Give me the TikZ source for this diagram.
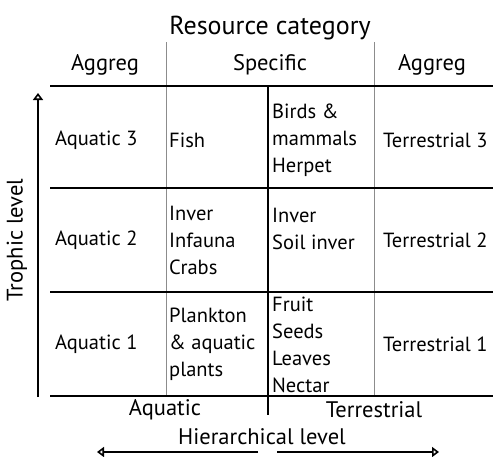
\documentclass[tikz,border=0pt]{standalone}
\usepackage{fontspec}
\setmainfont{PT Sans}
\usetikzlibrary{arrows.meta,positioning}

\begin{document}
\begin{tikzpicture}[x=1pt,y=-1pt,
  cell/.style={anchor=west,align=left,inner sep=0pt,font=\fontsize{20.5}{27}\selectfont},
  head/.style={inner sep=0pt,font=\fontsize{22.5}{26}\selectfont},
  gridline/.style={line width=1.8pt},
  thinline/.style={line width=1pt,black!45},
  axis/.style={line width=2.6pt,-{Triangle[open,width=10pt,length=7pt,line width=1.6pt]}}]
\useasboundingbox (0,0) rectangle (493,456);

% Title and column heads
\node[head,font=\fontsize{26}{30}\selectfont] (title) at (270,28) {Resource category};
\node[head] (aggL) at (105,65) {Aggreg};
\node[head] (spec) at (270,65) {Specific};
\node[head] (aggR) at (432,65) {Aggreg};

% Grid
\draw[thinline] (166,42)--(166,396);
\draw[thinline] (374,42)--(374,396);
\draw[gridline] (50,86)--(493,86);
\draw[gridline] (50,188)--(493,188);
\draw[gridline] (50,292)--(493,292);
\draw[line width=2.4pt] (50,396)--(493,396);
\draw[line width=2.8pt] (268,86)--(268,415);

% Row 3
\node[cell] (aq3) at (55,140) {Aquatic 3};
\node[cell] (fish) at (169,140) {Fish};
\node[cell] (birds) at (272,140) {Birds \&\\mammals\\Herpet};
\node[cell] (te3) at (383,140) {Terrestrial 3};

% Row 2
\node[cell] (aq2) at (55,240) {Aquatic 2};
\node[cell] (infauna) at (169,240) {Inver\\Infauna\\Crabs};
\node[cell] (soil) at (272,229) {Inver\\Soil inver};
\node[cell] (te2) at (383,240) {Terrestrial 2};

% Row 1
\node[cell] (aq1) at (55,344) {Aquatic 1};
\node[cell] (plankton) at (169,344) {Plankton\\\& aquatic\\plants};
\node[cell] (fruit) at (272,345) {Fruit\\Seeds\\Leaves\\Nectar};
\node[cell] (te1) at (383,344) {Terrestrial 1};

% Axes
\node[head,rotate=90] (troph) at (17,240) {Trophic level};
\coordinate (tbot) at (38,397);
\coordinate (ttop) at (38,93);
\draw[axis] (tbot)--(ttop);

\node[head] (aqua) at (165,410) {Aquatic};
\node[head] (terr) at (374,410) {Terrestrial};
\node[head] (hier) at (262,437) {Hierarchical level};
\coordinate (hmidL) at (258,452);
\coordinate (hmidR) at (277,452);
\coordinate (hleft) at (97,452);
\coordinate (hright) at (439,452);
\draw[axis] (hmidL)--(hleft);
\draw[axis] (hmidR)--(hright);
\end{tikzpicture}
\end{document}
